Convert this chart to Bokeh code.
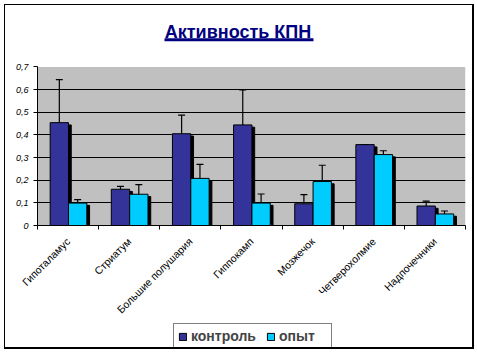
import math
from bokeh.plotting import figure
from bokeh.layouts import column
from bokeh.models import (ColumnDataSource, Range1d, FixedTicker, Whisker, TeeHead,
                          Legend, LegendItem, Label, BoxAnnotation, CustomJSTickFormatter,
                          InlineStyleSheet)
from bokeh.transform import dodge
from bokeh.embed import file_html
from bokeh.resources import INLINE

# ---- data ----
categories = ["Гипоталамус", "Стриатум", "Большие полушария", "Гиппокамп",
              "Мозжечок", "Четверохолмие", "Надпочечники"]
control = [0.454, 0.160, 0.405, 0.444, 0.096, 0.357, 0.086]
control_err = [0.190, 0.013, 0.082, 0.155, 0.040, 0.000, 0.022]
experiment = [0.099, 0.138, 0.208, 0.099, 0.194, 0.313, 0.051]
experiment_err = [0.015, 0.042, 0.062, 0.040, 0.072, 0.017, 0.013]
series_names = ["контроль", "опыт"]
y_ticks = [0, 0.1, 0.2, 0.3, 0.4, 0.5, 0.6, 0.7]
title_text = "Активность КПН"

C_CTRL = "#333399"
C_EXP = "#00CCFF"
C_TITLE = "#000080"
FONT = "Liberation Sans"

# ---- layout constants (pixels) ----
W_PX, H_PX = 477, 353
MAIN_H = 322                      # main chart figure; legend strip below it
FRAME_LEFT, FRAME_RIGHT, FRAME_BOTTOM, PLOT_TOP = 37, 465, 227, 67
n = len(categories)
y_max = y_ticks[-1]
PPX_X = (FRAME_RIGHT - FRAME_LEFT) / n
PPX_Y = (FRAME_BOTTOM - PLOT_TOP) / y_max

def dx(px):
    return (px - FRAME_LEFT) / PPX_X

def dy(py):
    return (FRAME_BOTTOM - py) / PPX_Y

centers = [i + 0.5 for i in range(n)]
SHADOW_DROP = 2.3 / PPX_Y
src = ColumnDataSource(dict(
    center=centers,
    control=control,
    experiment=experiment,
    control_sh=[v - SHADOW_DROP for v in control],
    experiment_sh=[v - SHADOW_DROP for v in experiment],
    c_up=[v + e for v, e in zip(control, control_err)],
    c_lo=[v - e for v, e in zip(control, control_err)],
    e_up=[v + e for v, e in zip(experiment, experiment_err)],
    e_lo=[v - e for v, e in zip(experiment, experiment_err)],
))

p = figure(width=W_PX, height=MAIN_H, x_range=Range1d(0, n), y_range=Range1d(0, dy(0)),
           output_backend="svg", toolbar_location=None,
           min_border_left=FRAME_LEFT, min_border_right=W_PX - FRAME_RIGHT,
           min_border_top=0, min_border_bottom=MAIN_H - FRAME_BOTTOM)
p.background_fill_color = "white"
p.border_fill_color = "white"
p.outline_line_color = None

# gray plot area
p.add_layout(BoxAnnotation(left=0, right=n, bottom=0, top=y_max, level="image",
                           fill_color="#C0C0C0", fill_alpha=1, line_color=None))

OFF_C = -0.143
OFF_E = 0.157
W = 0.3
SH = 0.045

# shadows
p.vbar(x=dodge("center", OFF_C + SH, range=p.x_range), top="control_sh", width=W,
       source=src, fill_color="black", line_color="black")
p.vbar(x=dodge("center", OFF_E + SH, range=p.x_range), top="experiment_sh", width=W,
       source=src, fill_color="black", line_color="black")
# bars
p.vbar(x=dodge("center", OFF_C, range=p.x_range), top="control", width=W,
       source=src, fill_color=C_CTRL, line_color="black", line_width=1)
p.vbar(x=dodge("center", OFF_E, range=p.x_range), top="experiment", width=W,
       source=src, fill_color=C_EXP, line_color="black", line_width=1)

for off, up, lo in [(OFF_C, "c_up", "c_lo"), (OFF_E, "e_up", "e_lo")]:
    wk = Whisker(source=src, base=dodge("center", off, range=p.x_range), upper=up, lower=lo,
                 line_color="black", line_width=1.2,
                 upper_head=TeeHead(size=7, line_color="black", line_width=1.2),
                 lower_head=TeeHead(size=7, line_color="black", line_width=1.2))
    p.add_layout(wk)

# axes
p.xaxis.ticker = FixedTicker(ticks=centers, minor_ticks=list(range(n + 1)))
p.xaxis.major_label_overrides = {c: name for c, name in zip(centers, categories)}
p.xaxis.major_label_orientation = math.pi / 4
p.xaxis.major_tick_in = 0
p.xaxis.major_tick_out = 0
p.xaxis.minor_tick_in = 0
p.xaxis.minor_tick_out = 4
p.xaxis.minor_tick_line_color = "black"
p.xaxis.axis_line_color = "black"
p.xaxis.major_label_text_font = FONT
p.xaxis.major_label_text_font_size = "10.5px"
p.xaxis.major_label_text_color = "black"
p.xaxis.major_label_standoff = 10

p.yaxis.ticker = FixedTicker(ticks=y_ticks)
p.yaxis.bounds = (0, y_max)
p.yaxis.formatter = CustomJSTickFormatter(code="return tick == 0 ? '0' : tick.toFixed(1).replace('.', ',');")
p.yaxis.major_tick_in = 0
p.yaxis.major_tick_out = 4
p.yaxis.minor_tick_line_color = None
p.yaxis.axis_line_color = "black"
p.yaxis.major_label_text_font = FONT
p.yaxis.major_label_text_font_size = "9px"
p.yaxis.major_label_text_font_style = "italic"
p.yaxis.major_label_text_color = "black"
p.yaxis.major_label_standoff = 5

p.xgrid.grid_line_color = None
p.ygrid.ticker = FixedTicker(ticks=y_ticks[1:-1])
p.ygrid.grid_line_color = "black"
p.ygrid.grid_line_width = 1

# title with underline
p.add_layout(Label(x=dx(237.5), y=dy(32), text=title_text,
                   text_font=FONT, text_font_size="18px", text_font_style="bold",
                   text_color=C_TITLE, text_align="center", text_baseline="alphabetic"))
p.add_layout(BoxAnnotation(left=dx(164), right=dx(313), top=dy(38), bottom=dy(41),
                           fill_color=C_TITLE, fill_alpha=1, line_color=None))

# ---- legend strip (its own figure, legend inside the frame) ----
LEG_H = H_PX - MAIN_H
q = figure(width=W_PX, height=LEG_H, x_range=Range1d(0, n), y_range=Range1d(1, 2),
           output_backend="svg", toolbar_location=None,
           x_axis_location=None, y_axis_location=None,
           min_border=0, min_border_left=FRAME_LEFT, min_border_right=W_PX - FRAME_RIGHT,
           min_border_top=0, min_border_bottom=0)
q.background_fill_color = "white"
q.border_fill_color = "white"
q.outline_line_color = None
q.grid.visible = False
# same series as the chart (drawn outside this strip's visible range; used by the legend)
l1 = q.vbar(x="center", top="control", width=W, source=src,
            fill_color=C_CTRL, line_color="black", line_width=1)
l2 = q.vbar(x="center", top="experiment", width=W, source=src,
            fill_color=C_EXP, line_color="black", line_width=1)
LEG_LEFT, LEG_BOTTOM = 173, 346
legend = Legend(items=[LegendItem(label=series_names[0], renderers=[l1]),
                       LegendItem(label=series_names[1], renderers=[l2])],
                orientation="horizontal", location=(LEG_LEFT - FRAME_LEFT, H_PX - LEG_BOTTOM - 3),
                label_text_font=FONT, label_text_font_size="14px", label_text_font_style="bold",
                glyph_width=9, glyph_height=9, label_height=14, label_width=48,
                label_standoff=4, spacing=10, padding=4, margin=0,
                border_line_color="black", border_line_width=1,
                background_fill_color="white", background_fill_alpha=1)
q.add_layout(legend, "center")

frame_css = InlineStyleSheet(css="""
:host { position: relative; }
:host::after {
  content: ""; position: absolute; left: 4px; top: 4px; width: 470px; height: 345px;
  box-sizing: border-box; border-style: solid; border-color: black;
  border-width: 1px 2px 2px 1px; z-index: 1000; pointer-events: none;
}
""")
layout = column(p, q, spacing=0, stylesheets=[frame_css])

open("out.html", "w").write(file_html(layout, INLINE))
